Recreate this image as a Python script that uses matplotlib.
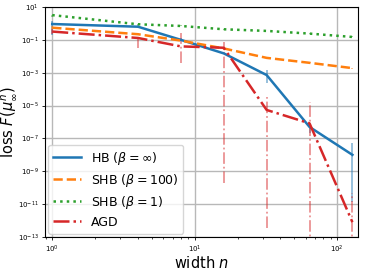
import numpy as np
import matplotlib
matplotlib.use('Agg')
import matplotlib.pyplot as plt
from matplotlib.lines import Line2D

# widths
n = [1, 4, 8, 16, 32, 64, 128]

# HB (beta = inf)
hb = [0.92, 0.63, 0.10, 0.015, 7.2e-4, 5.0e-7, 1.0e-8]
hb_hi = [1.5, 0.8, 0.13, 0.015, 1.5e-3, 6.6e-7, 5.2e-8]
hb_lo = [0.2, 0.5, 0.08, 0.015, 2.3e-4, 2.1e-7, 1.3e-11]

# SHB (beta = 100)
shb100 = [0.55, 0.22, 0.09, 0.03, 0.008, 0.004, 0.0019]
shb100_hi = [0.7, 0.25, 0.1, 0.032, 0.0085, 0.0042, 0.002]
shb100_lo = [0.45, 0.2, 0.08, 0.028, 0.0075, 0.0038, 0.0018]

# SHB (beta = 1)
shb1 = [3.2, 0.89, 0.7, 0.44, 0.35, 0.24, 0.15]
shb1_hi = [3.8, 0.95, 0.75, 0.46, 0.37, 0.25, 0.16]
shb1_lo = [2.6, 0.8, 0.65, 0.42, 0.33, 0.23, 0.14]

# AGD
agd = [0.32, 0.13, 0.04, 0.033, 5.4e-6, 8.3e-7, 8.0e-13]
agd_hi = [0.45, 0.155, 0.26, 0.074, 3.3e-5, 1.7e-5, 5.0e-11]
agd_lo = [0.22, 0.031, 0.0039, 1.9e-10, 3.5e-13, 1e-16, 1e-16]

series = [
    (hb, hb_lo, hb_hi, '-', 'tab:blue', r'HB ($\beta=\infty$)'),
    (shb100, shb100_lo, shb100_hi, '--', 'tab:orange', r'SHB ($\beta=100$)'),
    (shb1, shb1_lo, shb1_hi, ':', 'tab:green', r'SHB ($\beta=1$)'),
    (agd, agd_lo, agd_hi, '-.', 'tab:red', 'AGD'),
]

fig = plt.figure(figsize=(3.66, 2.69), dpi=100)
ax = fig.add_axes([0.123, 0.119, 0.855, 0.855])

handles = []
for y, lo, hi, ls, c, lab in series:
    y = np.array(y); lo = np.array(lo); hi = np.array(hi)
    eb = ax.errorbar(n, y, yerr=[y - lo, hi - y], ls=ls, color=c, lw=1.8,
                     elinewidth=1.3)
    for bc in eb[2]:
        bc.set_linestyle(ls)
        bc.set_alpha(0.5)
    handles.append(Line2D([], [], ls=ls, color=c, lw=1.8, label=lab))

ax.set_xscale('log')
ax.set_yscale('log')
ax.set_xlim(0.89, 140)
ax.set_ylim(1e-13, 1e1)
ax.set_yticks([10.0**k for k in range(1, -14, -2)])
ax.yaxis.set_minor_locator(matplotlib.ticker.NullLocator())
ax.grid(True, which='major', color='0.72', lw=1.0)
ax.tick_params(labelsize=5, width=0.6, length=2.5, pad=2)
ax.tick_params(which='minor', width=0.5, length=1.5)
ax.set_xlabel(r'width $n$', fontsize=10.5, labelpad=0)
ax.set_ylabel(r'loss $F(\mu_\infty^n)$', fontsize=10.5, labelpad=0)
ax.legend(handles=handles, loc='lower left', fontsize=9, handlelength=2.2,
          borderaxespad=0.25, labelspacing=0.4)

fig.savefig('out.png', dpi=100)
